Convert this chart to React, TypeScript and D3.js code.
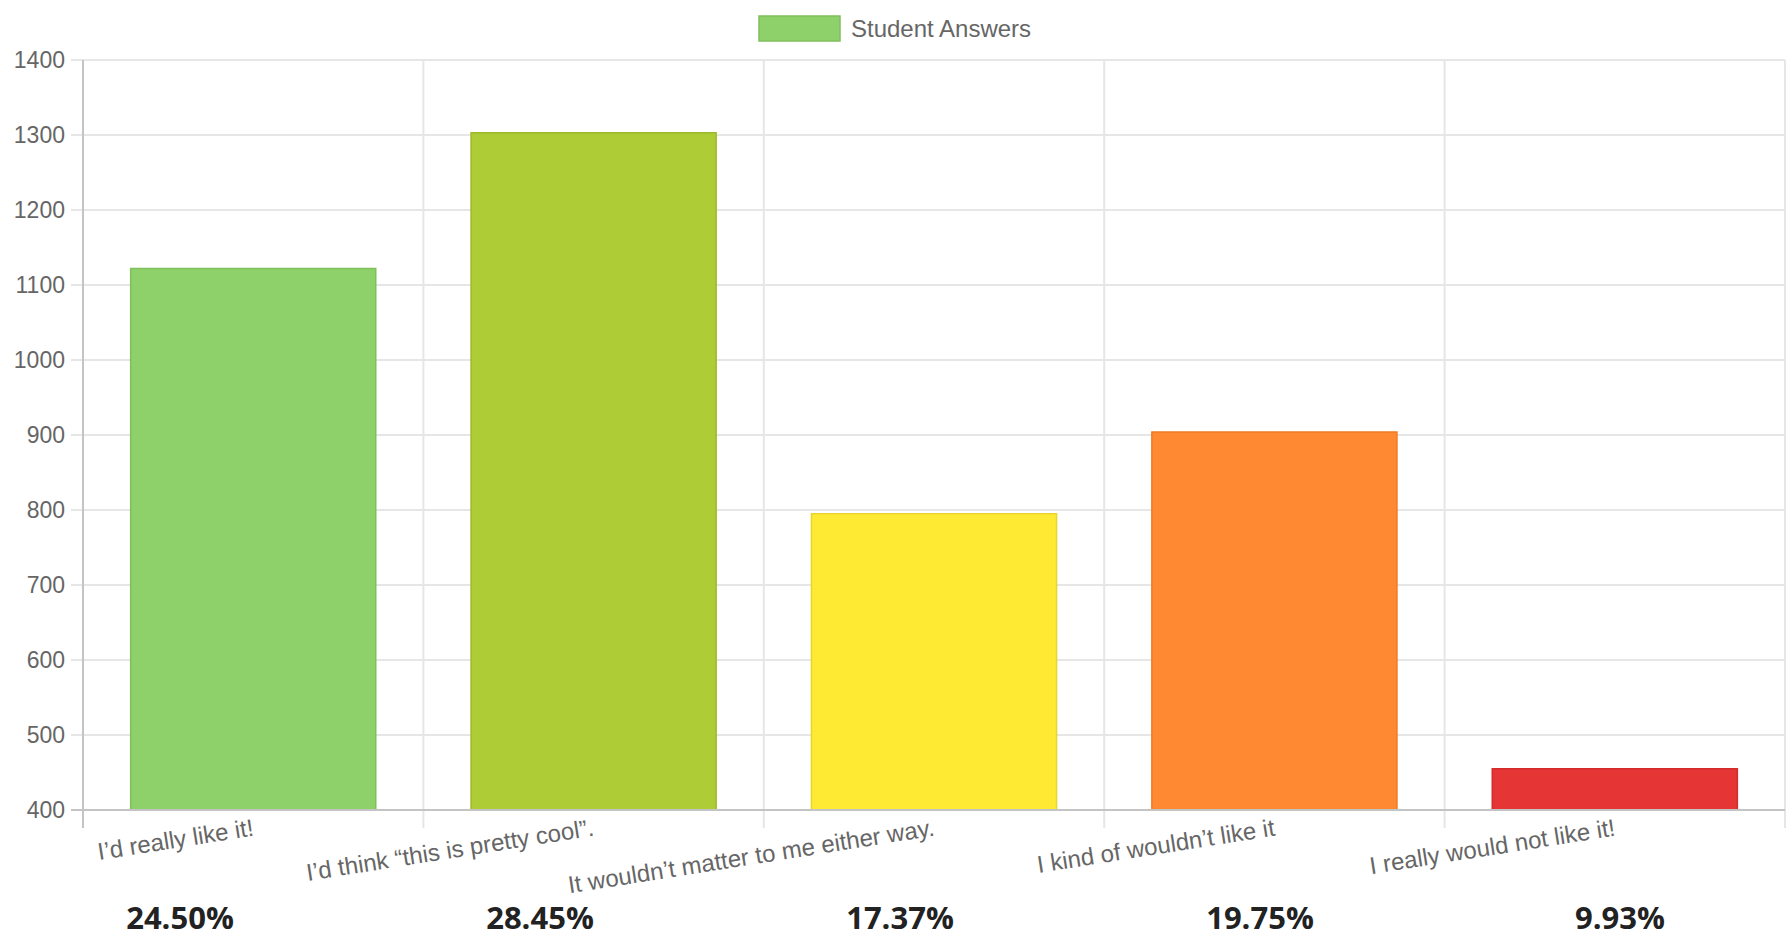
import React from "react";
import * as d3 from "d3";

const categories = [
  "I’d really like it!",
  "I’d think “this is pretty cool”.",
  "It wouldn’t matter to me either way.",
  "I kind of wouldn’t like it",
  "I really would not like it!",
];
const values = [1122, 1303, 795, 904, 455];
const percentLabels = ["24.50%", "28.45%", "17.37%", "19.75%", "9.93%"];
const barColors = ["#8ed16a", "#adcc35", "#ffea33", "#ff8833", "#e63535"];
const barBorders = ["#7fbf5c", "#9cba2c", "#e8d42c", "#f07a28", "#d42c2c"];
const yTicks = [400, 500, 600, 700, 800, 900, 1000, 1100, 1200, 1300, 1400];
const seriesName = "Student Answers";

const W = 1788;
const H = 939;
const FONT = "'Liberation Sans', Arial, Helvetica, sans-serif";

export default function App() {
  const left = 83;
  const right = 1785;
  const top = 60;
  const bottom = 810;
  const tick = 12;

  const x = d3.scaleBand<string>().domain(categories).range([left, right]).paddingInner(0).paddingOuter(0);
  const y = d3.scaleLinear().domain([400, 1400]).range([bottom, top]);
  const px = d3.scaleBand<string>().domain(percentLabels).range([0, 1800]);

  const bw = x.bandwidth();
  const barW = bw * 0.72;
  const gridLinesX = d3.range(categories.length + 1).map((i) => left + i * bw);

  return (
    <div style={{ position: "fixed", left: 0, top: 0, width: W, height: H, background: "#fff" }}>
      <svg width={W} height={H} style={{ display: "block" }}>
        {yTicks.map((t) => (
          <line key={"h" + t} x1={left - tick} x2={right} y1={y(t)} y2={y(t)} stroke="#e6e6e6" strokeWidth={2} />
        ))}
        {gridLinesX.map((gx, i) => (
          <line key={"v" + i} x1={gx} x2={gx} y1={top} y2={bottom + tick + 6} stroke="#e6e6e6" strokeWidth={2} />
        ))}
        {categories.map((c, i) => {
          const x0 = (x(c) as number) + (bw - barW) / 2;
          return (
            <rect
              key={c}
              x={x0}
              y={y(values[i])}
              width={barW}
              height={y(400) - y(values[i])}
              fill={barColors[i]}
              stroke={barBorders[i]}
              strokeWidth={1.5}
            />
          );
        })}
        <line x1={left} x2={left} y1={top} y2={bottom + tick + 6} stroke="#c4c4c4" strokeWidth={2} />
        <line x1={left - tick} x2={right} y1={bottom} y2={bottom} stroke="#c4c4c4" strokeWidth={2} />
        {yTicks.map((t) => (
          <text
            key={"yl" + t}
            x={65}
            y={y(t)}
            textAnchor="end"
            dominantBaseline="central"
            fontFamily={FONT}
            fontSize={23}
            fill="#666"
          >
            {t}
          </text>
        ))}
        {categories.map((c) => {
          const cx = (x(c) as number) + bw / 2;
          return (
            <text
              key={"xl" + c}
              transform={`translate(${cx},${827}) rotate(-9)`}
              textAnchor="end"
              dominantBaseline="central"
              fontFamily={FONT}
              fontSize={24}
              fill="#666"
            >
              {c}
            </text>
          );
        })}
        <rect x={759} y={16} width={81} height={25} fill={barColors[0]} stroke={barBorders[0]} strokeWidth={1.5} />
        <text x={851} y={28.5} dominantBaseline="central" fontFamily={FONT} fontSize={24} fill="#666">
          {seriesName}
        </text>
        {percentLabels.map((p) => (
          <text
            key={"p" + p}
            x={(px(p) as number) + px.bandwidth() / 2}
            y={929}
            textAnchor="middle"
            fontFamily="'Open Sans', 'Noto Sans', sans-serif"
            fontWeight={700}
            fontSize={31}
            fill="#222"
          >
            {p}
          </text>
        ))}
      </svg>
    </div>
  );
}
